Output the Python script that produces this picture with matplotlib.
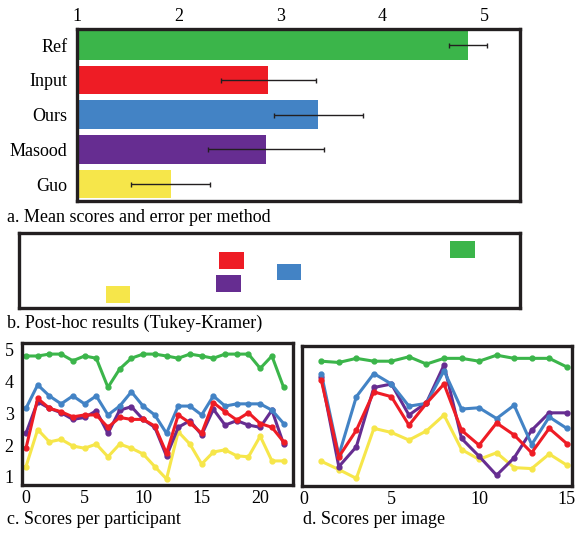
import matplotlib
matplotlib.use("Agg")
import matplotlib.pyplot as plt
import numpy as np

plt.rcParams['font.family'] = ['Liberation Serif', 'DejaVu Serif']

# methods, top to bottom
methods = ["Ref", "Input", "Ours", "Masood", "Guo"]
colors = ["#3bb54a", "#ee1c25", "#4383c5", "#662d91", "#f6e64a"]
mean_scores = [4.84, 2.88, 3.37, 2.86, 1.92]
score_errors = [0.185, 0.47, 0.44, 0.57, 0.385]

# scores per participant (23 participants)
participant_ids = list(range(23))
participant_scores = {
    "Ref":    [4.81, 4.81, 4.87, 4.87, 4.66, 4.81, 4.74, 3.82, 4.40, 4.74, 4.87, 4.87,
               4.81, 4.74, 4.87, 4.81, 4.74, 4.87, 4.87, 4.87, 4.42, 4.81, 3.82],
    "Input":  [1.90, 3.47, 3.16, 3.05, 2.89, 2.95, 2.95, 2.56, 2.87, 2.81, 2.81, 2.60,
               1.74, 2.95, 2.70, 2.37, 3.34, 3.05, 2.79, 3.02, 2.68, 2.56, 2.10],
    "Ours":   [3.16, 3.90, 3.55, 3.30, 3.55, 3.30, 3.55, 2.95, 3.23, 3.68, 3.23, 2.95,
               2.37, 3.23, 3.23, 2.95, 3.55, 3.23, 3.30, 3.30, 3.30, 3.10, 2.68],
    "Masood": [2.37, 3.37, 3.16, 3.02, 2.81, 2.87, 3.08, 2.37, 3.10, 3.21, 2.81, 2.56,
               1.65, 2.56, 2.77, 2.32, 3.13, 2.63, 2.77, 2.63, 2.56, 3.10, 2.03],
    "Guo":    [1.32, 2.49, 2.10, 2.18, 1.97, 1.90, 2.03, 1.63, 2.03, 1.90, 1.72, 1.32,
               0.93, 2.42, 2.03, 1.40, 1.78, 1.85, 1.66, 1.63, 2.28, 1.50, 1.50],
}

# scores per image (15 images)
image_ids = list(range(1, 16))
image_scores = {
    "Ref":    [4.65, 4.61, 4.74, 4.65, 4.65, 4.79, 4.56, 4.74, 4.74, 4.65, 4.84, 4.74, 4.74, 4.74, 4.47],
    "Input":  [4.05, 1.63, 2.47, 3.68, 3.53, 2.63, 3.32, 3.93, 2.47, 2.00, 2.70, 2.32, 1.76, 2.53, 2.05],
    "Ours":   [4.26, 1.68, 3.53, 4.26, 3.93, 3.23, 3.32, 4.35, 3.14, 3.18, 2.84, 3.26, 2.02, 2.89, 2.53],
    "Masood": [4.16, 1.32, 1.95, 3.82, 3.93, 2.95, 3.34, 4.53, 2.21, 1.65, 1.05, 1.60, 2.47, 3.02, 3.02],
    "Guo":    [1.49, 1.23, 0.95, 2.53, 2.40, 2.16, 2.45, 2.95, 1.86, 1.55, 1.76, 1.29, 1.26, 1.72, 1.37],
}

frame_color = "#231f20"
W, H = 575, 534


def px_axes(fig, left, top, right, bottom):
    return fig.add_axes([left / W, 1 - bottom / H, (right - left) / W, (bottom - top) / H])


def style_frame(ax):
    for s in ax.spines.values():
        s.set_linewidth(2.4)
        s.set_color(frame_color)
    ax.tick_params(length=0, labelsize=13, colors="black")


fig = plt.figure(figsize=(W / 100, H / 100), dpi=100)

# a. mean scores with error bars
ax_a = px_axes(fig, 77, 29, 520, 201)
ypos = np.arange(len(methods))
ax_a.barh(ypos, np.array(mean_scores) - 1, left=1, height=0.82, color=colors)
ax_a.errorbar(mean_scores, ypos, xerr=score_errors, fmt="none", ecolor=frame_color,
              elinewidth=1.0, capsize=1.8, capthick=1.0)
ax_a.set_xlim(1.0, 5.35)
ax_a.set_ylim(4.49, -0.47)
ax_a.xaxis.tick_top()
ax_a.set_xticks([1, 2, 3, 4, 5])
ax_a.set_yticks(ypos)
ax_a.set_yticklabels(methods)
style_frame(ax_a)
ax_a.tick_params(axis="x", pad=3)
ax_a.tick_params(axis="y", pad=7)

# b. post-hoc results
ax_b = px_axes(fig, 19, 233, 520, 308)
rect_w = 0.21
ax_b.barh(ypos, rect_w, left=np.array(mean_scores) - rect_w / 2, height=1.5, color=colors)
ax_b.set_xlim(1.08, 5.33)
ax_b.set_ylim(5.2, -1.47)
ax_b.set_xticks([])
ax_b.set_yticks([])
style_frame(ax_b)

# c. scores per participant
ax_c = px_axes(fig, 22, 343, 293, 485)
for m, c in zip(methods[::-1], colors[::-1]):
    ax_c.plot(participant_ids, participant_scores[m], "-o", color=c, lw=2.2, ms=3.5)
ax_c.set_xlim(-0.34, 22.8)
ax_c.set_ylim(0.74, 5.22)
ax_c.set_xticks([0, 5, 10, 15, 20])
ax_c.set_yticks([1, 2, 3, 4, 5])
style_frame(ax_c)
ax_c.tick_params(axis="y", pad=6)

# d. scores per image
ax_d = px_axes(fig, 302, 346, 572, 486)
for m, c in zip(methods[::-1], colors[::-1]):
    ax_d.plot(image_ids, image_scores[m], "-o", color=c, lw=2.2, ms=3.5)
ax_d.set_xlim(-0.1, 15.3)
ax_d.set_ylim(0.71, 5.13)
ax_d.set_xticks([0, 5, 10, 15])
ax_d.set_yticks([])
style_frame(ax_d)

cap_size = 13
fig.text(7 / W, 1 - 218 / H, "a. Mean scores and error per method", fontsize=cap_size, va="center")
fig.text(7 / W, 1 - 323 / H, "b. Post-hoc results (Tukey-Kramer)", fontsize=cap_size, va="center")
fig.text(7 / W, 1 - 520 / H, "c. Scores per participant", fontsize=cap_size, va="center")
fig.text(303 / W, 1 - 520 / H, "d. Scores per image", fontsize=cap_size, va="center")

fig.savefig("out.png", dpi=100)
